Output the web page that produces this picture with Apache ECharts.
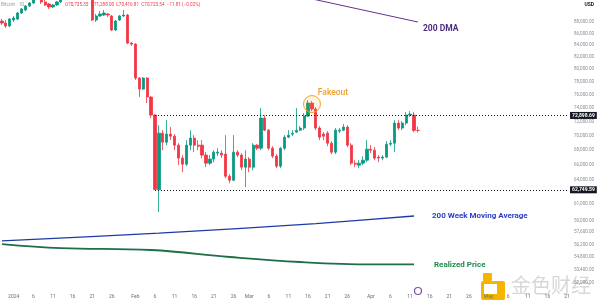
<!DOCTYPE html>
<html><head><meta charset="utf-8">
<script src="https://cdn.jsdelivr.net/npm/echarts@6/dist/echarts.min.js"></script>
<style>html,body{margin:0;padding:0;background:#fff}#c{width:600px;height:305px}</style>
</head><body><div id="c"></div>
<script>
// ---------- DATA ----------
const firstDate = '2023-12-29';
const categoryCount = 145;
const xTickDates = ['2024-01-01','2024-01-06','2024-01-11','2024-01-16','2024-01-21','2024-01-26',
                    '2024-02-01','2024-02-06','2024-02-11','2024-02-16','2024-02-21','2024-02-26',
                    '2024-03-01','2024-03-06','2024-03-11','2024-03-16','2024-03-21','2024-03-26',
                    '2024-04-01','2024-04-06','2024-04-11','2024-04-16','2024-04-21','2024-04-26',
                    '2024-05-01','2024-05-06','2024-05-11','2024-05-16','2024-05-21'];
const xTickTexts = ['2024','6','11','16','21','26','Feb','6','11','16','21','26','Mar','6','11','16','21','26','Apr','6','11','16','21','26','May','6','11','16','21'];
const opens  = [88180,87830,87300,88360,88540,89620,90160,90900,91445,92370,93120,91630,91265,90715,91080,91630,92185,93120,92560,94255,93120,94630,93500,93880,88360,89080,89260,89440,89080,86595,88360,89080,89260,84350,84180,78600,76875,78600,75650,72950,62750,70345,69075,70205,69920,68660,66890,66080,68660,69640,68660,68660,67295,66210,66755,67565,67565,67430,64495,63975,67700,67295,65680,66755,65680,68660,68245,72510,70770,68245,67160,65810,68245,69780,70205,70490,70770,71065,72800,74740,73835,71065,70205,70345,68935,67700,70630,70770,71210,68660,66210,65945,66210,66610,68110,67970,67025,66890,67025,68800,68935,71780,71065,71780,72950,72950,70735.35];
const closes = [87830,87300,88540,88720,89620,90350,90900,91445,92370,93120,91630,91080,90715,91080,91630,92185,93120,92560,94255,93120,94630,93500,93880,88360,89080,89440,89620,89260,86595,88180,89080,89260,84350,84180,78600,76875,78600,75650,72950,62800,70345,69075,70205,69920,68660,66890,66080,68660,69640,68660,68520,67295,66210,66755,67700,67700,67295,64495,63975,67700,67295,65680,66755,65680,68660,68245,72510,70770,68245,67160,65810,68245,69780,70060,70345,70770,71065,72800,74740,73835,71065,69780,69920,68935,67700,70770,70770,71210,68660,66210,66080,66210,66610,68110,67970,66890,66890,67025,68800,68935,71780,71065,71780,72950,73100,70735.35,70723.54];
const lows   = [87475,86950,87125,88005,88360,89440,89980,90715,91265,92185,91265,90900,90350,90535,90900,91445,92000,92185,92370,92745,92930,93120,92930,88180,88005,88900,89080,88900,86420,86420,88180,88900,84180,83845,78285,75650,76720,74740,72510,62749.59,60000,67970,68660,69355,67970,65945,65020,65810,67970,67700,67970,66890,65680,65945,66345,67160,66890,64235,63590,63845,67025,65280,63080,65020,65280,67970,67970,70630,67970,66890,65545,65545,67970,69640,69920,70345,70630,70770,72655,73540,70770,69355,69355,68520,67430,67430,70345,70630,68385,65945,65680,65545,65945,66345,67565,66610,66345,66610,66890,68520,67700,70770,70770,71495,72655,70490,70416.81];
const highs  = [88540,88360,88720,89080,89800,90535,91080,91630,92745,93500,93500,92000,91445,91265,91815,92560,93500,93690,94630,94630,95000,95000,94255,94255,89440,89980,90160,89620,89260,88360,89260,90160,89440,84520,84350,78760,78760,78760,75800,73100,71495,70770,72215,71210,70205,68935,67295,69355,70770,70060,69355,69355,67700,67295,67970,68245,67970,70060,64755,70060,67970,67565,67970,67025,68935,68800,73990,72950,70920,68520,67430,68385,70060,70770,70770,73990,71350,73245,75190,75040,74140,71350,70490,70630,69215,71065,71065,71640,71495,68935,66610,66610,67160,69355,68660,68385,67295,67295,69215,69355,72215,72215,72070,73390,73540,73390,71288.00];
const dma200  = [[70, 93650], [106, 88005]];
const wma200  = [[0, 56600], [40, 57500], [80, 58620], [105, 59520]];
const realized = [[0, 56250], [15, 55800], [38, 55580], [58, 54800], [76, 54250], [94, 54000], [105, 54000]];
const yTickValues = [88000,86000,84000,82000,80000,78000,76000,74000,72000,70000,68000,66000,64000,61000,59000,57600,56200,54800,53400,52000];
const rangeHigh = 72898.69, rangeLow = 62749.59, lastPrice = 70723.54;
const fakeoutIndex = 79, fakeoutPrice = 74590;
// ---------- BUILD ----------
const start = Date.parse(firstDate + 'T00:00:00Z');
const categories = Array.from({length: categoryCount}, (_, i) => new Date(start + i * 86400000).toISOString().slice(0, 10));
const labelAt = {};
xTickDates.forEach((d, k) => { labelAt[categories.indexOf(d)] = xTickTexts[k]; });
const candles = opens.map((o, i) => [o, closes[i], lows[i], highs[i]]);
const fmt = v => v.toLocaleString('en-US', {minimumFractionDigits: 2, maximumFractionDigits: 2});
const last = candles.length - 1;
const lastCat = categoryCount - 1;
const tagLabel = (bg) => ({show: true, position: 'end', distance: 3, fontSize: 5, color: '#fff', backgroundColor: bg, padding: [1, 2], fontFamily: 'Roboto', fontWeight: 'bold'});

const chart = echarts.init(document.getElementById('c'), null, {renderer: 'canvas'});
chart.setOption({
  animation: false,
  backgroundColor: '#ffffff',
  grid: {left: -1, right: 31, top: 0, bottom: 14},
  xAxis: {
    type: 'category', data: categories, boundaryGap: true,
    axisLine: {show: false}, axisTick: {show: false}, splitLine: {show: false},
    axisLabel: {interval: (i) => labelAt[i] !== undefined, formatter: (v, i) => labelAt[i] || '', fontSize: 5, color: '#6a6d78', margin: 3, fontFamily: 'Roboto'}
  },
  yAxis: {
    type: 'log', logBase: 10, min: 51170, max: 92000, position: 'right',
    axisLine: {show: false}, axisTick: {show: false}, splitLine: {show: false},
    axisLabel: {customValues: yTickValues, formatter: v => fmt(v), fontSize: 4.6, color: '#8a8d96', margin: 5, fontFamily: 'Roboto'}
  },
  series: [
    {
      type: 'candlestick', data: candles, barWidth: 2.7, clip: true,
      itemStyle: {color: '#089981', color0: '#f23645', borderColor: '#089981', borderColor0: '#f23645', borderWidth: 0.8},
      markLine: {
        symbol: ['none', 'none'], silent: true,
        data: [
          [{coord: [39, rangeHigh], lineStyle: {color: '#131722', type: [1, 2], width: 1.2}, label: Object.assign(tagLabel('#131722'), {formatter: fmt(rangeHigh)})}, {coord: [lastCat, rangeHigh]}],
          [{coord: [39, rangeLow], lineStyle: {color: '#131722', type: [1, 2], width: 1.2}, label: Object.assign(tagLabel('#131722'), {formatter: fmt(rangeLow)})}, {coord: [lastCat, rangeLow]}],
          [{coord: [last, lastPrice], lineStyle: {opacity: 0}, label: Object.assign(tagLabel('#f23645'), {formatter: fmt(lastPrice) + '\n10:23:24', lineHeight: 5.5})}, {coord: [lastCat, lastPrice]}]
        ]
      },
      markPoint: {
        silent: true,
        data: [{coord: [fakeoutIndex, fakeoutPrice], symbol: 'circle', symbolSize: 17,
          itemStyle: {color: 'rgba(245,166,35,0.12)', borderColor: '#f5a623', borderWidth: 1},
          label: {show: true, formatter: 'Fakeout', color: '#f0a030', fontSize: 8.5, fontFamily: 'Roboto', fontWeight: 500, position: 'inside', offset: [21, -11]}}]
      }
    },
    {type: 'line', data: dma200, symbol: 'none', clip: true, lineStyle: {color: '#6b2f8f', width: 1},
     endLabel: {show: true, formatter: '200 DMA', color: '#4b2d7f', fontSize: 8.5, fontWeight: 'bold', fontFamily: 'Roboto', offset: [-3, 7]}},
    {type: 'line', data: wma200, symbol: 'none', smooth: 0.3, lineStyle: {color: '#1f3aa8', width: 1.3},
     endLabel: {show: true, formatter: '200 Week Moving Average', color: '#2b3fc6', fontSize: 8, fontWeight: 'bold', fontFamily: 'Roboto', offset: [10, 0]}},
    {type: 'line', data: realized, symbol: 'none', smooth: 0.4, lineStyle: {color: '#1e6e48', width: 1.8},
     endLabel: {show: true, formatter: 'Realized Price', color: '#1f8a4c', fontSize: 8, fontWeight: 'bold', fontFamily: 'Roboto', offset: [12, 1]}}
  ],
  graphic: [
    {type: 'text', left: 1, top: 2, style: {text: 'Bitcoin · 1D', fontSize: 4.6, fill: '#9598a1', fontFamily: 'Roboto'}},
    {type: 'text', left: 65, top: 2, style: {text: 'O70,735.35  H71,288.00  L70,416.81  C70,723.54  −11.81 (−0.02%)', fontSize: 4.6, fill: '#f23645', fontFamily: 'Roboto'}},
    {type: 'text', right: 6, top: 2, style: {text: 'USD', fontSize: 5, fill: '#131722', fontFamily: 'Roboto', fontWeight: 'bold'}},
    {type: 'circle', shape: {cx: 418, cy: 291, r: 3.5}, style: {fill: 'none', stroke: '#7b4fb0', lineWidth: 1.2}},
    {type: 'rect', shape: {x: 481, y: 281, width: 24, height: 19, r: 2}, style: {fill: '#f5b400'}},
    {type: 'rect', shape: {x: 484, y: 284, width: 13, height: 10}, style: {fill: '#ffffff'}},
    {type: 'rect', shape: {x: 483, y: 273, width: 9, height: 8, r: 1}, style: {fill: '#f5b400'}},
    {type: 'text', left: 511, top: 275, style: {text: '金色财经', fontSize: 20, fill: '#d8d8d8', fontFamily: 'Noto Sans CJK SC'}}
  ]
});
</script></body></html>
